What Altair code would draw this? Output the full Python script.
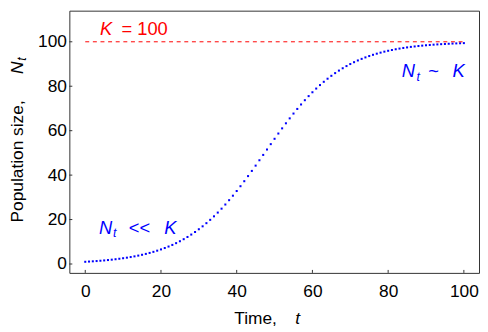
import altair as alt
import pandas as pd

# ---- data ----
t_vals = list(range(101))
n_vals = [1.00, 1.10, 1.21, 1.33, 1.47, 1.61, 1.78, 1.95, 2.15, 2.36,
          2.60, 2.85, 3.13, 3.44, 3.78, 4.15, 4.55, 4.99, 5.47, 6.00,
          6.57, 7.19, 7.86, 8.59, 9.39, 10.25, 11.17, 12.17, 13.25, 14.40,
          15.64, 16.96, 18.38, 19.87, 21.46, 23.14, 24.91, 26.77, 28.72, 30.74,
          32.84, 35.01, 37.26, 39.56, 41.89, 44.27, 46.69, 49.09, 51.52, 53.94,
          56.34, 58.71, 61.04, 63.32, 65.54, 67.70, 69.78, 71.79, 73.71, 75.55,
          77.29, 78.95, 80.52, 81.99, 83.38, 84.68, 85.90, 87.03, 88.09, 89.07,
          89.98, 90.82, 91.60, 92.31, 92.97, 93.58, 94.14, 94.65, 95.12, 95.56,
          95.95, 96.31, 96.64, 96.94, 97.22, 97.47, 97.70, 97.90, 98.09, 98.27,
          98.43, 98.57, 98.70, 98.82, 98.93, 99.02, 99.11, 99.20, 99.27, 99.34,
          99.40]
K = 100
tick_x = [0, 20, 40, 60, 80, 100]
tick_y = [0, 20, 40, 60, 80, 100]

W, H = 414, 265
FONT = "Liberation Sans"
BLUE = "#0000ff"
RED = "#ff0000"

xs = alt.Scale(domain=[-4.2, 104.0], nice=False, zero=False)
ys = alt.Scale(domain=[-4.0, 114.0], nice=False, zero=False)
xax = alt.Axis(values=tick_x, title=None, labelPadding=9.5)
yax = alt.Axis(values=tick_y, title=None, labelPadding=3)


def X(f):
    return alt.X(f, type="quantitative", scale=xs, axis=xax)


def Y(f):
    return alt.Y(f, type="quantitative", scale=ys, axis=yax)


df = pd.DataFrame({"t": t_vals, "N": n_vals})

points = alt.Chart(df).mark_square(size=4.2, color=BLUE, fill=BLUE,
                                   opacity=1, strokeWidth=0).encode(
    x=X("t"), y=Y("N"))

kline = alt.Chart(pd.DataFrame({"a": [0], "b": [100], "k": [K]})).mark_rule(
    color=RED, stroke=RED, strokeWidth=1, strokeDash=[4, 3.7],
    opacity=1).encode(
    x=X("a"), x2="b", y=Y("k"))

xticks = alt.Chart(pd.DataFrame({"v": tick_x})).mark_rule(
    color="#333333", strokeWidth=1).encode(
    x=X("v"), y=alt.value(H), y2=alt.value(H - 3))

yticks = alt.Chart(pd.DataFrame({"v": tick_y})).mark_rule(
    color="#333333", strokeWidth=1).encode(
    y=Y("v"), x=alt.value(0), x2=alt.value(3))


def dtext(s, x, y, size, color, italic=False):
    d = pd.DataFrame({"x": [x], "y": [y], "s": [s]})
    kw = dict(align="left", baseline="alphabetic", font=FONT,
              fontSize=size, color=color)
    if italic:
        kw["fontStyle"] = "italic"
    return alt.Chart(d).mark_text(**kw).encode(
        x=X("x"), y=Y("y"), text="s:N")


def ptext(s, x, y, size, color, italic=False, angle=0):
    d = pd.DataFrame({"s": [s]})
    kw = dict(align="left", baseline="alphabetic", font=FONT,
              fontSize=size, color=color)
    if italic:
        kw["fontStyle"] = "italic"
    if angle:
        kw["angle"] = angle
    return alt.Chart(d).mark_text(**kw).encode(
        x=alt.value(x), y=alt.value(y), text="s:N")


ANN = 18.5
SUB = 12.5
TIT = 17.5

texts = [
    # K = 100
    dtext("K", 3.9, 103.0, ANN, RED, True),
    dtext("= 100", 9.57, 103.0, ANN, RED),
    # N_t << K
    dtext("N", 3.64, 13.65, ANN, BLUE, True),
    dtext("t", 7.30, 12.09, SUB, BLUE, True),
    dtext("<<", 11.48, 13.65, ANN, BLUE),
    dtext("K", 20.89, 13.65, ANN, BLUE, True),
    # N_t ~ K
    dtext("N", 83.61, 84.01, ANN, BLUE, True),
    dtext("t", 87.46, 82.45, SUB, BLUE, True),
    dtext("~", 90.6, 84.01, ANN, BLUE),
    dtext("K", 97.03, 84.01, ANN, BLUE, True),
    # x title
    ptext("Time,", 166.7, 316.7, TIT, "#000000"),
    ptext("t", 228.3, 316.7, TIT, "#000000", True),
    # y title
    ptext("Population size,", -47, 214, TIT, "#000000", angle=270),
    ptext("N", -47, 64, TIT, "#000000", True, angle=270),
    ptext("t", -43.5, 50.5, SUB, "#000000", True, angle=270),
]

chart = alt.layer(points, kline, xticks, yticks, *texts).properties(
    width=W, height=H,
    autosize=alt.AutoSizeParams(type="none"),
    padding={"left": 62, "top": 1, "right": 1, "bottom": 55},
).configure_view(
    stroke="#333333", strokeWidth=1
).configure_axis(
    domain=False, grid=False, ticks=False,
    labelFont=FONT, labelFontSize=17.5, labelColor="#000000"
)

chart.save("out.html", embed_options={"renderer": "svg", "actions": False})
